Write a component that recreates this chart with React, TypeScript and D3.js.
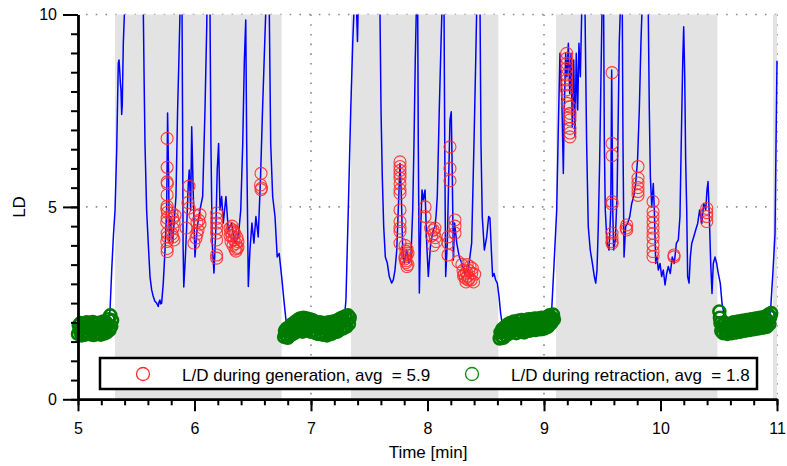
import React, { useEffect, useRef } from 'react';
import * as d3 from 'd3';

// generation phases (grey bands), in minutes
const genStart = [5.318, 7.343, 9.103, 10.966];
const genEnd = [6.748, 8.608, 10.488, 11.0];

// L/D trace [time min, LD]; values above 10 run off the top of the plot
const ldTrace: [number, number][] = [
  [5.000,1.82],[5.020,1.86],[5.040,1.80],[5.060,1.85],[5.080,1.83],[5.100,1.88],[5.120,1.84],[5.140,1.87],
  [5.160,1.86],[5.180,1.90],[5.200,1.88],[5.220,1.92],[5.240,1.95],[5.255,2.00],[5.268,2.10],[5.275,2.32],
  [5.290,3.40],[5.305,4.30],[5.318,4.92],[5.332,6.47],[5.340,7.80],[5.346,8.74],[5.352,8.82],[5.358,8.55],
  [5.364,8.20],[5.369,8.04],[5.375,7.40],[5.380,7.65],[5.385,8.56],[5.389,9.25],[5.398,10.0],[5.405,10.6],
  [5.450,13],[5.520,13],[5.556,10.6],[5.561,10.0],[5.568,8.2],[5.575,6.65],[5.589,4.92],[5.603,4.06],
  [5.618,3.19],[5.632,2.85],[5.646,2.67],[5.660,2.55],[5.675,2.50],[5.683,2.45],[5.689,2.41],[5.695,2.52],
  [5.703,2.58],[5.710,2.48],[5.718,2.50],[5.732,3.02],[5.747,3.88],[5.761,4.92],[5.769,7.44],[5.778,5.78],
  [5.784,4.06],[5.796,4.75],[5.813,4.06],[5.825,4.58],[5.841,5.27],[5.855,7.52],[5.866,8.82],[5.876,10.1],
  [5.885,12],[5.893,10.1],[5.898,7.0],[5.902,4.0],[5.908,2.92],[5.920,3.60],[5.933,4.49],[5.947,5.62],
  [5.955,5.96],[5.967,4.92],[5.976,7.08],[5.990,5.27],[6.004,3.70],[6.024,4.49],[6.047,4.92],[6.070,5.27],
  [6.090,7.52],[6.105,9.68],[6.115,12],[6.133,10.1],[6.141,6.65],[6.152,4.06],[6.167,3.28],[6.184,4.49],
  [6.195,5.96],[6.207,6.65],[6.219,4.92],[6.233,5.27],[6.247,4.58],[6.270,5.27],[6.290,4.40],[6.318,4.58],
  [6.348,4.06],[6.376,4.22],[6.397,4.92],[6.414,6.65],[6.428,8.82],[6.440,9.86],[6.448,6.65],[6.462,2.93],
  [6.476,3.88],[6.493,4.58],[6.510,4.06],[6.527,4.75],[6.547,4.22],[6.567,5.78],[6.584,7.52],[6.598,8.82],
  [6.612,10.1],[6.625,12],[6.642,10.1],[6.654,6.65],[6.671,5.27],[6.691,4.75],[6.710,3.70],[6.727,3.79],
  [6.748,3.19],[6.770,2.50],[6.791,1.89],
  [6.810,1.80],[6.830,1.76],[6.850,1.85],[6.870,1.90],[6.890,1.95],[6.910,2.00],[6.930,2.04],[6.950,2.00],
  [6.970,1.98],[6.990,1.95],[7.010,1.92],[7.030,1.88],[7.050,1.86],[7.070,1.84],[7.090,1.85],[7.110,1.82],
  [7.130,1.84],[7.150,1.86],[7.170,1.88],[7.190,1.86],[7.210,1.92],[7.230,1.95],[7.250,1.98],[7.270,2.02],
  [7.285,2.08],[7.292,2.30],[7.300,2.58],[7.320,4.92],[7.341,7.52],[7.358,9.25],[7.369,10.1],[7.380,11],
  [7.392,10.0],[7.399,9.3],[7.405,10.2],[7.420,12],[7.500,13],[7.585,12],[7.592,10.1],[7.601,7.52],
  [7.612,5.78],[7.624,4.49],[7.638,3.70],[7.655,3.54],[7.672,3.19],[7.692,3.02],[7.706,3.10],[7.721,3.36],
  [7.736,3.88],[7.749,4.92],[7.764,6.13],[7.775,5.35],[7.787,3.88],[7.801,3.54],[7.821,3.88],[7.841,3.54],
  [7.858,3.70],[7.873,4.92],[7.884,6.65],[7.895,8.82],[7.904,10.1],[7.910,11],[7.916,10.1],[7.921,6.65],
  [7.930,2.76],[7.942,4.49],[7.953,5.44],[7.964,5.18],[7.979,5.44],[7.993,4.06],[8.007,3.19],[8.027,4.06],
  [8.050,4.40],[8.064,4.49],[8.073,4.75],[8.084,5.27],[8.101,7.52],[8.116,9.25],[8.124,10.1],[8.133,11.5],
  [8.142,10.1],[8.148,6.65],[8.156,3.19],[8.170,4.06],[8.182,5.78],[8.193,7.26],[8.204,7.47],[8.213,5.78],
  [8.222,3.62],[8.233,4.58],[8.251,4.06],[8.273,3.70],[8.294,3.54],[8.322,3.27],[8.350,3.36],[8.379,4.06],
  [8.399,6.65],[8.414,8.82],[8.422,10.1],[8.436,12],[8.451,10.1],[8.459,6.65],[8.470,4.75],[8.488,3.88],
  [8.508,4.22],[8.525,4.75],[8.536,4.71],[8.548,3.88],[8.559,3.19],[8.571,3.27],[8.585,3.10],[8.599,3.02],
  [8.614,2.67],[8.628,2.23],[8.645,1.89],
  [8.665,1.78],[8.690,1.82],[8.715,1.86],[8.740,1.88],[8.765,1.90],[8.790,1.92],[8.815,1.90],[8.840,1.94],
  [8.865,1.95],[8.890,1.93],[8.915,1.96],[8.940,1.98],[8.965,2.00],[8.990,2.02],[9.015,2.00],[9.040,2.05],
  [9.058,2.12],[9.066,2.32],[9.088,3.62],[9.109,4.92],[9.123,7.08],[9.137,8.99],[9.152,7.95],[9.166,5.87],
  [9.174,7.52],[9.186,8.99],[9.197,8.38],[9.209,9.25],[9.221,7.95],[9.232,8.99],[9.243,7.08],[9.255,8.82],
  [9.266,6.82],[9.277,8.99],[9.289,7.52],[9.300,9.25],[9.312,8.38],[9.324,10.1],[9.337,12],[9.352,10.1],
  [9.366,6.65],[9.380,4.49],[9.397,3.88],[9.415,3.54],[9.432,3.19],[9.444,3.02],[9.455,3.36],[9.466,4.49],
  [9.478,6.22],[9.489,8.38],[9.498,10.1],[9.505,11],[9.512,10.1],[9.518,6.65],[9.526,4.92],[9.541,4.06],
  [9.558,3.88],[9.573,4.92],[9.581,8.56],[9.590,4.92],[9.598,3.88],[9.612,4.14],[9.627,5.27],[9.638,7.52],
  [9.646,9.25],[9.655,10.1],[9.663,11],[9.672,10.1],[9.678,6.65],[9.687,3.70],[9.701,4.49],[9.718,4.57],
  [9.736,4.75],[9.753,5.09],[9.770,5.27],[9.787,5.61],[9.803,6.22],[9.818,7.52],[9.832,9.25],[9.841,10.1],
  [9.860,12],[9.890,10.5],[9.895,10.1],[9.904,7.52],[9.913,5.78],[9.925,5.00],[9.938,5.61],[9.947,4.92],
  [9.959,3.53],[9.970,3.70],[9.981,3.36],[9.996,3.53],[10.010,3.19],[10.024,3.36],[10.039,2.97],[10.053,3.27],
  [10.067,3.45],[10.084,3.27],[10.101,3.70],[10.118,3.53],[10.136,4.05],[10.153,4.14],[10.167,4.75],[10.178,6.65],
  [10.191,8.82],[10.199,9.68],[10.208,8.38],[10.216,6.22],[10.225,4.92],[10.233,3.19],[10.245,3.02],[10.256,3.70],
  [10.268,4.05],[10.285,4.22],[10.302,4.40],[10.319,4.57],[10.336,4.92],[10.354,4.57],[10.371,5.09],[10.388,4.92],
  [10.399,5.44],[10.408,5.66],[10.419,4.75],[10.431,3.53],[10.442,2.75],[10.453,3.53],[10.468,3.70],[10.482,3.53],
  [10.496,3.27],[10.513,3.02],[10.528,2.50],[10.539,2.32],[10.550,2.05],
  [10.570,1.92],[10.600,1.88],[10.630,1.90],[10.660,1.92],[10.690,1.94],[10.720,1.95],[10.750,1.96],[10.780,1.98],
  [10.810,2.00],[10.840,2.00],[10.870,2.02],[10.900,2.04],[10.930,2.08],[10.945,2.32],[10.966,3.36],[10.983,4.30],
  [10.991,6.48],[11.000,8.80]
];

// L/D during generation (red markers)
const genPoints: [number, number][] = [
  [5.765,6.78],[5.765,6.03],[5.765,5.65],[5.767,5.60],[5.765,5.31],[5.765,5.02],[5.762,4.95],[5.768,4.86],
  [5.765,4.71],[5.762,4.60],[5.765,4.32],[5.768,4.22],[5.762,4.10],[5.765,3.92],[5.765,3.84],
  [5.807,4.84],[5.815,4.70],[5.824,4.60],[5.815,4.45],[5.807,4.30],[5.824,4.14],[5.833,4.78],[5.815,4.22],
  [5.953,5.54],[5.944,5.11],[5.953,4.97],[5.927,4.45],
  [6.004,4.79],[6.021,4.60],[6.030,4.40],[6.013,4.19],[5.995,4.06],[6.038,4.65],[6.047,4.55],[6.047,4.80],[6.021,4.30],
  [6.190,4.84],[6.190,4.70],[6.190,4.58],[6.190,4.45],[6.190,4.32],[6.190,4.14],[6.190,3.75],[6.190,3.67],
  [6.305,4.45],[6.313,4.35],[6.322,4.25],[6.330,4.40],[6.339,4.15],[6.348,4.30],[6.356,4.05],[6.365,4.20],
  [6.373,3.95],[6.348,3.90],[6.330,4.00],[6.313,4.10],[6.356,3.85],[6.373,4.10],[6.322,4.50],[6.339,4.35],
  [6.365,3.92],[6.305,4.25],
  [6.571,5.87],[6.567,5.57],[6.575,5.49],[6.571,5.45],
  [7.764,6.17],[7.764,6.05],[7.764,5.95],[7.764,5.85],[7.764,5.75],[7.764,5.60],[7.764,5.45],[7.764,5.35],
  [7.764,4.92],[7.764,4.62],[7.764,4.45],[7.764,4.36],[7.764,4.06],
  [7.807,4.00],[7.815,3.85],[7.824,3.75],[7.807,3.65],[7.815,3.55],[7.832,3.50],[7.824,3.90],[7.807,3.70],
  [7.815,3.60],[7.832,3.80],[7.824,3.45],
  [7.979,5.00],[7.979,4.75],
  [8.050,4.40],[8.058,4.30],[8.067,4.20],[8.075,4.10],[8.050,4.00],[8.027,4.45],[8.035,4.25],[8.064,4.45],
  [8.193,6.56],[8.193,6.00],[8.193,5.68],
  [8.176,4.22],[8.176,4.06],[8.176,3.75],
  [8.236,4.66],[8.236,4.50],[8.236,4.32],
  [8.262,3.58],
  [8.295,3.50],[8.305,3.35],[8.315,3.25],[8.325,3.15],[8.335,3.30],[8.345,3.20],[8.355,3.35],[8.365,3.45],
  [8.375,3.10],[8.385,3.40],[8.395,3.05],[8.405,3.25],[8.310,3.20],[8.340,3.50],[8.360,3.15],[8.380,3.28],
  [8.330,3.05],[8.350,3.10],
  [9.195,8.99],[9.195,8.86],[9.195,8.73],[9.195,8.60],[9.195,8.43],[9.195,8.30],[9.195,8.17],[9.195,8.04],
  [9.200,7.90],[9.200,7.69],
  [9.223,7.60],[9.223,7.43],[9.223,7.34],[9.223,7.26],[9.223,7.04],[9.223,6.92],[9.223,6.82],
  [9.584,8.49],[9.584,6.65],[9.584,6.33],[9.584,5.14],[9.584,5.07],[9.584,4.32],[9.584,4.20],[9.584,4.10],[9.584,4.05],
  [9.710,4.53],[9.710,4.40],[9.705,4.45],
  [9.807,6.05],[9.807,5.75],[9.807,5.62],[9.807,5.50],[9.807,5.40],[9.807,5.30],
  [9.936,5.14],[9.936,4.88],[9.936,4.75],[9.936,4.60],[9.936,4.45],[9.936,4.31],[9.936,4.19],[9.936,4.01],
  [9.936,3.84],[9.936,3.71],
  [10.116,3.75],[10.116,3.70],
  [10.397,4.96],[10.397,4.85],[10.397,4.75],[10.397,4.62]
];

// L/D during retraction (green markers)
const retPoints: [number, number][] = [
  [5.000,1.70],[5.007,1.92],[5.015,1.80],[5.022,1.98],[5.030,1.66],[5.037,1.86],[5.045,1.75],[5.052,1.95],
  [5.060,1.68],[5.067,1.88],[5.075,2.00],[5.082,1.72],[5.090,1.84],[5.097,1.96],[5.105,1.69],[5.112,1.90],
  [5.120,1.78],[5.127,2.01],[5.135,1.67],[5.142,1.85],[5.150,1.97],[5.157,1.73],[5.165,1.89],[5.172,1.70],
  [5.180,1.99],[5.187,1.82],[5.195,1.68],[5.202,1.94],[5.210,1.76],[5.217,2.02],[5.225,1.71],[5.232,1.88],
  [5.240,2.00],[5.247,1.74],[5.255,1.92],[5.262,2.08],[5.270,1.80],[5.277,2.18],[5.285,1.90],[5.292,2.05],

  [6.770,1.62],[6.777,1.78],[6.785,1.68],[6.792,1.84],[6.800,1.60],[6.807,1.76],[6.815,1.88],[6.822,1.66],
  [6.830,1.82],[6.837,1.95],[6.845,1.70],[6.852,1.86],[6.860,2.00],[6.867,1.74],[6.875,1.92],[6.882,2.05],
  [6.890,1.78],[6.897,1.96],[6.905,2.10],[6.912,1.82],[6.920,2.02],[6.927,1.76],[6.935,2.12],[6.942,1.88],
  [6.950,2.06],[6.957,1.80],[6.965,2.10],[6.972,1.84],[6.980,1.98],[6.987,2.08],[6.995,1.76],[7.002,1.94],
  [7.010,2.06],[7.017,1.78],[7.025,1.90],[7.032,2.02],[7.040,1.72],[7.047,1.88],[7.055,1.98],[7.062,1.70],
  [7.070,1.84],[7.077,2.00],[7.085,1.74],[7.092,1.92],[7.100,1.68],[7.107,1.86],[7.115,1.98],[7.122,1.72],
  [7.130,1.90],[7.137,1.66],[7.145,1.84],[7.152,2.00],[7.160,1.76],[7.167,1.92],[7.175,1.70],[7.182,1.88],
  [7.190,2.02],[7.197,1.74],[7.205,1.96],[7.212,1.80],[7.220,2.04],[7.227,1.76],[7.235,1.92],[7.242,2.08],
  [7.250,1.82],[7.257,1.98],[7.265,2.12],[7.272,1.84],[7.280,2.04],[7.287,1.90],[7.295,2.16],[7.302,1.88],
  [7.310,2.06],[7.317,2.18],[7.325,1.96],[7.332,2.12],

  [8.620,1.58],[8.627,1.74],[8.635,1.64],[8.642,1.82],[8.650,1.60],[8.657,1.76],[8.665,1.88],[8.672,1.66],
  [8.680,1.80],[8.687,1.94],[8.695,1.70],[8.702,1.86],[8.710,1.98],[8.717,1.74],[8.725,1.90],[8.732,1.78],
  [8.740,2.02],[8.747,1.82],[8.755,1.96],[8.762,1.72],[8.770,1.88],[8.777,2.04],[8.785,1.80],[8.792,1.94],
  [8.800,1.76],[8.807,2.06],[8.815,1.84],[8.822,1.98],[8.830,1.74],[8.837,1.92],[8.845,2.06],[8.852,1.80],
  [8.860,1.96],[8.867,2.08],[8.875,1.78],[8.882,1.94],[8.890,1.84],[8.897,2.08],[8.905,1.82],[8.912,1.98],
  [8.920,2.10],[8.927,1.80],[8.935,1.96],[8.942,1.86],[8.950,2.10],[8.957,1.84],[8.965,2.00],[8.972,1.82],
  [8.980,2.12],[8.987,1.90],[8.995,2.04],[9.002,1.84],[9.010,2.10],[9.017,1.92],[9.025,2.14],[9.032,1.88],
  [9.040,2.06],[9.047,2.18],[9.055,1.96],[9.062,2.12],[9.070,2.02],[9.077,2.20],[9.085,2.08],

  [10.505,2.28],[10.510,2.12],[10.515,1.98],[10.522,1.78],[10.530,1.92],[10.537,1.72],[10.545,1.86],[10.552,1.98],
  [10.560,1.74],[10.567,1.90],[10.575,1.70],[10.582,1.84],[10.590,1.96],[10.597,1.76],[10.605,1.92],[10.612,1.72],
  [10.620,1.88],[10.627,2.00],[10.635,1.78],[10.642,1.94],[10.650,1.74],[10.657,1.86],[10.665,2.02],[10.672,1.80],
  [10.680,1.96],[10.687,1.76],[10.695,1.90],[10.702,2.04],[10.710,1.82],[10.717,1.98],[10.725,1.78],[10.732,1.92],
  [10.740,2.06],[10.747,1.84],[10.755,2.00],[10.762,1.80],[10.770,1.94],[10.777,2.08],[10.785,1.86],[10.792,2.02],
  [10.800,1.82],[10.807,1.96],[10.815,2.10],[10.822,1.88],[10.830,2.04],[10.837,1.84],[10.845,1.98],[10.852,2.12],
  [10.860,1.90],[10.867,2.06],[10.875,1.86],[10.882,2.02],[10.890,2.14],[10.897,1.92],[10.905,2.08],[10.912,1.88],
  [10.920,2.04],[10.927,2.20],[10.935,1.96],[10.942,2.14],[10.950,2.24]
];

const xTicks = [5, 6, 7, 8, 9, 10, 11];
const yTicks = [0, 5, 10];
const legendLabels = ['L/D during generation, avg  = 5.9', 'L/D during retraction, avg  = 1.8'];
const legendColors = ['#ff2a2a', '#0b8a0b'];

const FONT = 'Liberation Sans, Arial, Helvetica, sans-serif';

export default function App() {
  const ref = useRef<SVGSVGElement>(null);

  useEffect(() => {
    const width = 787;
    const height = 466;
    const svg = d3.select(ref.current).attr('width', width).attr('height', height);
    svg.selectAll('*').remove();

    const x = d3.scaleLinear().domain([5, 11]).range([78, 777]);
    const y = d3.scaleLinear().domain([0, 10]).range([399.3, 14.5]);

    svg.append('rect').attr('width', width).attr('height', height).attr('fill', '#fff');

    // dotted grid
    const grid = svg.append('g').attr('stroke', '#8a8a8a').attr('stroke-width', 1.6).attr('stroke-dasharray', '1.6 8.1');
    [5, 10].forEach(v => {
      grid.append('line').attr('x1', x(5) + 8).attr('x2', x(11)).attr('y1', y(v)).attr('y2', y(v));
    });
    xTicks.slice(1).forEach(t => {
      grid.append('line').attr('x1', x(t)).attr('x2', x(t)).attr('y1', y(10)).attr('y2', y(0));
    });

    // generation bands
    svg.append('g').selectAll('rect')
      .data(genStart)
      .enter()
      .append('rect')
      .attr('x', d => x(d))
      .attr('width', (d, i) => x(genEnd[i]) - x(d))
      .attr('y', y(10))
      .attr('height', y(0) - y(10) + 0.5)
      .attr('fill', '#e3e3e3');

    // LD trace
    svg.append('clipPath').attr('id', 'plotclip')
      .append('rect').attr('x', x(5)).attr('y', y(10)).attr('width', x(11) - x(5) + 1).attr('height', y(0) - y(10));
    const line = d3.line<[number, number]>().x(d => x(d[0])).y(d => y(d[1]));
    svg.append('path')
      .datum(ldTrace)
      .attr('clip-path', 'url(#plotclip)')
      .attr('d', line)
      .attr('fill', 'none')
      .attr('stroke', '#0000ff')
      .attr('stroke-width', 1.5)
      .attr('stroke-linejoin', 'round');

    svg.append('g').selectAll('circle')
      .data(retPoints)
      .enter()
      .append('circle')
      .attr('cx', d => x(d[0]))
      .attr('cy', d => y(d[1]))
      .attr('r', 6)
      .attr('fill', 'none')
      .attr('stroke', '#007a00')
      .attr('stroke-width', 2.6);

    svg.append('g').selectAll('circle')
      .data(genPoints)
      .enter()
      .append('circle')
      .attr('cx', d => x(d[0]))
      .attr('cy', d => y(d[1]))
      .attr('r', 6)
      .attr('fill', 'none')
      .attr('stroke', '#ff2a2a')
      .attr('stroke-opacity', 0.9)
      .attr('stroke-width', 1.1);

    // legend
    const legend = svg.append('g');
    legend.append('rect')
      .attr('x', 100).attr('y', 358).attr('width', 657).attr('height', 31)
      .attr('fill', '#fff').attr('stroke', '#000').attr('stroke-width', 2.5);
    const legendX = [143, 472];
    legendLabels.forEach((label, i) => {
      legend.append('circle')
        .attr('cx', legendX[i]).attr('cy', 374).attr('r', 6.5)
        .attr('fill', 'none').attr('stroke', legendColors[i]).attr('stroke-width', 1.3);
      legend.append('text')
        .attr('x', legendX[i] + 39).attr('y', 380.5)
        .attr('font-family', FONT).attr('font-size', 17)
        .style('white-space', 'pre')
        .text(label);
    });

    // axes
    const axisColor = '#000';
    const xMinor = svg.append('g').attr('transform', `translate(0,${y(0)})`)
      .call(d3.axisBottom(x).ticks(30).tickSize(6).tickSizeOuter(0).tickFormat(() => ''));
    const xMajor = svg.append('g').attr('transform', `translate(0,${y(0)})`)
      .call(d3.axisBottom(x).tickValues(xTicks).tickSize(12).tickSizeOuter(0).tickPadding(11).tickFormat(d3.format('d')));
    const yMinor = svg.append('g').attr('transform', `translate(${x(5)},0)`)
      .call(d3.axisLeft(y).ticks(20).tickSize(7).tickSizeOuter(0).tickFormat(() => ''));
    const yMajor = svg.append('g').attr('transform', `translate(${x(5)},0)`)
      .call(d3.axisLeft(y).tickValues(yTicks).tickSize(15).tickSizeOuter(0).tickPadding(6).tickFormat(d3.format('d')));
    [xMinor, xMajor, yMinor, yMajor].forEach(g => {
      g.selectAll('.tick line').attr('stroke', axisColor).attr('stroke-width', 2);
      g.select('.domain').attr('stroke', axisColor).attr('stroke-width', 2.4);
      g.selectAll('text').attr('font-family', FONT).attr('font-size', 16).attr('fill', '#000');
    });

    svg.append('text')
      .attr('x', 428).attr('y', 458)
      .attr('text-anchor', 'middle')
      .attr('font-family', FONT).attr('font-size', 17)
      .text('Time [min]');
    svg.append('text')
      .attr('transform', 'translate(25,207) rotate(-90)')
      .attr('text-anchor', 'middle')
      .attr('font-family', FONT).attr('font-size', 17)
      .text('LD');
  }, []);

  return (
    <div style={{ position: 'absolute', left: 0, top: 0 }}>
      <svg ref={ref} />
    </div>
  );
}
